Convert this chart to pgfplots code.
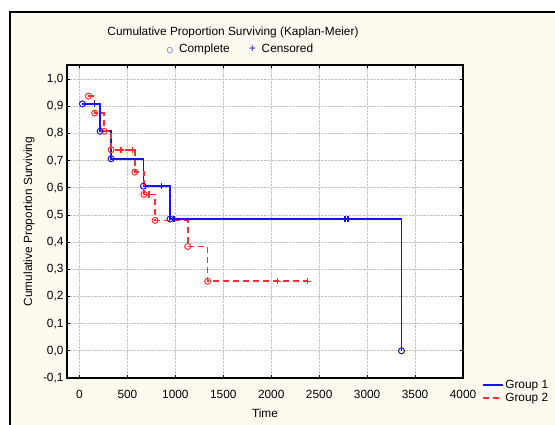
\documentclass[border=0pt]{standalone}
\usepackage{pgfplots}
\pgfplotsset{compat=1.18}
\usepackage{fontspec}
\setmainfont{Liberation Sans}
\newfontfamily\djv{DejaVu Sans}
\definecolor{cream}{RGB}{253,250,240}
\definecolor{kmblue}{RGB}{20,20,235}
\definecolor{kmred}{RGB}{255,45,45}
\definecolor{gridgray}{RGB}{195,195,195}
\begin{document}
\begin{tikzpicture}
\path[use as bounding box] (0bp,0bp) rectangle (555bp,425bp);
\fill[white] (0bp,0bp) rectangle (555bp,425bp);
\fill[cream] (10bp,-10bp) rectangle (570bp,413bp);
\draw[black, line width=1.5bp] (10bp,-10bp) -- (10bp,413bp) -- (570bp,413bp);
\node[font=\fontsize{11.9}{13}\selectfont, anchor=center] at (233bp,393bp) {Cumulative Proportion Surviving (Kaplan-Meier)};
\node[font=\fontsize{11.9}{13}\selectfont, anchor=base west] at (163bp,372bp) {{\djv\fontsize{7.5}{8}\selectfont\textcolor{kmblue}{○}}\hspace{6bp}Complete\hspace{19bp}\textcolor{kmblue}{+}\hspace{6bp}Censored};
\begin{axis}[
  at={(67bp,47bp)}, anchor=south west,
  scale only axis, width=396bp, height=313bp,
  xmin=-130, xmax=4000, ymin=-0.1, ymax=1.052,
  xtick={0,500,1000,1500,2000,2500,3000,3500,4000},
  ytick={-0.1,0,0.1,0.2,0.3,0.4,0.5,0.6,0.7,0.8,0.9,1.0},
  tick pos=both, tick align=inside, major tick length=3bp,
  grid=major, major grid style={gridgray, densely dotted, line width=0.8bp},
  axis line style={black, line width=1.2bp},
  axis background/.style={fill=white},
  tick style={black, line width=0.8bp},
  ticklabel style={font=\fontsize{11.9}{13}\selectfont},
  /pgf/number format/assume math mode=true,
  xticklabel style={/pgf/number format/1000 sep={}, yshift=-9bp},
  yticklabel style={/pgf/number format/.cd, use comma, fixed, fixed zerofill, precision=1},
  xlabel={Time}, ylabel={Cumulative Proportion Surviving},
  label style={font=\fontsize{11.9}{13}\selectfont},
  xlabel style={at={(axis description cs:0.5,0)}, anchor=center, yshift=-35bp},
  ylabel style={at={(axis description cs:-0.096,0.5)}, anchor=center, rotate=0},
  legend style={at={(1,0)}, anchor=west, xshift=18bp, yshift=-13.5bp, draw=none, fill=none,
    font=\fontsize{11.9}{13}\selectfont, row sep=0bp, inner sep=1bp,
    nodes={inner sep=1.5bp}},
  legend cell align=left,
  legend image code/.code={\draw[#1] plot coordinates {(0bp,0bp) (20bp,0bp)};},
]
% Group 1 survival curve
\addplot[const plot mark left, color=kmblue, line width=1.6bp] coordinates {
 (31,0.909) (216,0.808) (330,0.707) (667,0.606) (945,0.485) (3358,0.485) (3358,0)
};
\addlegendentry{Group 1}
% Group 2 survival curve
\addplot[const plot mark left, color=kmred, line width=1.6bp, dash pattern=on 6bp off 4bp] coordinates {
 (94,0.9375) (158,0.875) (258,0.808) (330,0.740) (577,0.658) (674,0.576) (789,0.480) (1129,0.384) (1337,0.256) (2379,0.256)
};
\addlegendentry{Group 2}
% complete (circles)
\addplot[only marks, mark=o, mark size=3bp, color=kmblue, mark options={fill=white, line width=1bp}, forget plot] coordinates {
 (31,0.909) (216,0.808) (330,0.707) (667,0.606) (945,0.485) (3358,0)
};
\addplot[only marks, mark=o, mark size=3bp, color=kmred, mark options={fill=white, line width=1bp}, forget plot] coordinates {
 (94,0.9375) (158,0.875) (258,0.808) (330,0.740) (577,0.658) (674,0.576) (789,0.480) (1129,0.384) (1337,0.256)
};
% censored (plus)
\addplot[only marks, mark=+, mark size=3.2bp, color=kmblue, mark options={line width=1.5bp}, forget plot] coordinates {
 (156,0.909) (858,0.606) (986,0.485) (2768,0.485) (2802,0.485)
};
\addplot[only marks, mark=+, mark size=3.2bp, color=kmred, mark options={line width=1.5bp}, forget plot] coordinates {
 (431,0.740) (552,0.740) (723,0.576) (2066,0.256) (2379,0.256)
};
\end{axis}
\end{tikzpicture}
\end{document}
